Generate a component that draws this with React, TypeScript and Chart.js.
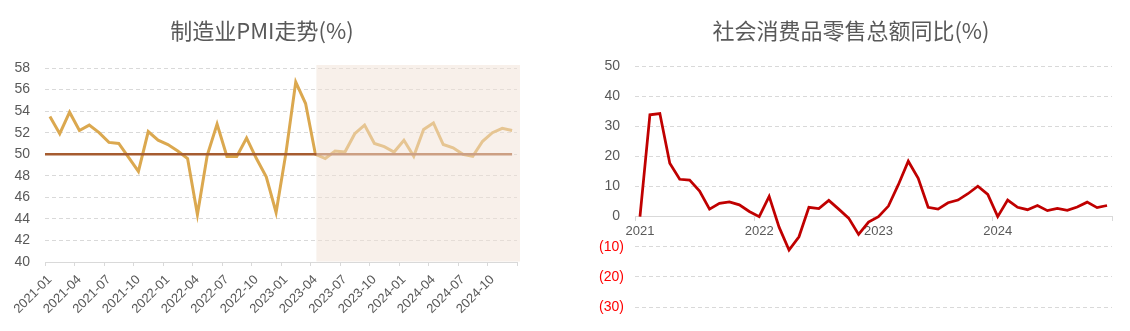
import React, { useEffect, useRef } from 'react';
import { Chart, registerables } from 'chart.js';

Chart.register(...registerables);

const months: string[] = [
  '2021-01', '2021-02', '2021-03', '2021-04', '2021-05', '2021-06', '2021-07', '2021-08', '2021-09', '2021-10', '2021-11', '2021-12',
  '2022-01', '2022-02', '2022-03', '2022-04', '2022-05', '2022-06', '2022-07', '2022-08', '2022-09', '2022-10', '2022-11', '2022-12',
  '2023-01', '2023-02', '2023-03', '2023-04', '2023-05', '2023-06', '2023-07', '2023-08', '2023-09', '2023-10', '2023-11', '2023-12',
  '2024-01', '2024-02', '2024-03', '2024-04', '2024-05', '2024-06', '2024-07', '2024-08', '2024-09', '2024-10', '2024-11', '2024-12',
];

const pmiValues: number[] = [
  53.5, 51.9, 53.9, 52.2, 52.7, 52.0, 51.1, 51.0, 49.7, 48.4, 52.1, 51.3,
  50.9, 50.3, 49.6, 44.4, 49.9, 52.8, 49.8, 49.8, 51.5, 49.6, 47.9, 44.6,
  50.1, 56.7, 54.7, 50.0, 49.6, 50.3, 50.2, 51.9, 52.7, 51.0, 50.7, 50.2,
  51.3, 49.8, 52.3, 52.9, 50.9, 50.6, 50.0, 49.8, 51.2, 52.0, 52.4, 52.2,
];

const retailValues: number[] = [
  0, 33.8, 34.2, 17.7, 12.4, 12.1, 8.5, 2.5, 4.4, 4.9, 3.9, 1.7,
  0, 6.7, -3.5, -11.1, -6.7, 3.1, 2.7, 5.4, 2.5, -0.5, -5.9, -1.8,
  0, 3.5, 10.6, 18.4, 12.7, 3.1, 2.5, 4.6, 5.5, 7.6, 10.1, 7.4,
  0, 5.5, 3.1, 2.3, 3.7, 2.0, 2.7, 2.1, 3.2, 4.8, 3.0, 3.7,
];

const yearLabels: string[] = ['2021', '2022', '2023', '2024'];

const PMI_TITLE = '制造业PMI走势(%)';
const RETAIL_TITLE = '社会消费品零售总额同比(%)';
const PMI_THRESHOLD = 50;
const SHADE_FROM = '2023-04';

const FONT = 'Liberation Sans, Arial, sans-serif';
const TEXT = '#595959';
const GRID = '#d9d9d9';

const pmiOverlay = {
  id: 'pmiOverlay',
  afterDatasetsDraw(chart: any) {
    const { ctx, chartArea, scales } = chart;
    const x = scales.x;
    const y = scales.y;
    const yPix = y.getPixelForValue(PMI_THRESHOLD);
    const xEnd = x.getPixelForValue(months.length - 1);
    ctx.save();
    ctx.strokeStyle = '#A65C30';
    ctx.lineWidth = 2.5;
    ctx.beginPath();
    ctx.moveTo(chartArea.left, yPix);
    ctx.lineTo(xEnd, yPix);
    ctx.stroke();
    const xs = x.getPixelForValue(months.indexOf(SHADE_FROM)) + 1;
    ctx.fillStyle = 'rgba(241,225,213,0.5)';
    ctx.fillRect(xs, chartArea.top - 3, chartArea.right + 3 - xs, chartArea.bottom - 0.5 - (chartArea.top - 3));
    ctx.restore();
  },
};

function PmiChart() {
  const ref = useRef<HTMLCanvasElement>(null);
  useEffect(() => {
    if (!ref.current) return;
    const chart = new Chart(ref.current, {
      type: 'line',
      data: {
        labels: months,
        datasets: [
          {
            data: pmiValues,
            borderColor: '#DBA84F',
            borderWidth: 3,
            pointRadius: 0,
            tension: 0,
            fill: false,
          },
        ],
      },
      options: {
        animation: false,
        responsive: false,
        maintainAspectRatio: false,
        layout: { padding: { left: 0, right: 43, top: 68, bottom: 0 } },
        plugins: { legend: { display: false }, tooltip: { enabled: false } },
        scales: {
          x: {
            type: 'category',
            offset: true,
            grid: {
              offset: true,
              drawOnChartArea: false,
              tickLength: 4,
              color: (c: any) => (c.index === undefined || c.index % 3 === 0 ? GRID : 'rgba(0,0,0,0)'),
            },
            border: { color: GRID },
            ticks: {
              autoSkip: false,
              maxRotation: 45,
              minRotation: 45,
              color: TEXT,
              padding: 6,
              font: { size: 13, family: FONT },
              callback: (_v: any, i: number) => (i % 3 === 0 ? months[i] : ''),
            },
            afterFit: (s: any) => {
              s.height = 69;
            },
          },
          y: {
            min: 40,
            max: 58,
            ticks: { stepSize: 2, color: TEXT, padding: 15, font: { size: 14, family: FONT } },
            grid: {
              drawTicks: false,
              color: (c: any) => (c.tick && c.tick.value === 40 ? 'rgba(0,0,0,0)' : GRID),
            },
            border: { display: false, dash: [4, 3] },
            afterFit: (s: any) => {
              s.width = 45;
            },
          },
        },
      },
      plugins: [pmiOverlay],
    } as any);
    return () => chart.destroy();
  }, []);
  return <canvas ref={ref} width={560} height={331} style={{ width: 560, height: 331, display: 'block' }} />;
}

function RetailChart() {
  const ref = useRef<HTMLCanvasElement>(null);
  useEffect(() => {
    if (!ref.current) return;
    const chart = new Chart(ref.current, {
      type: 'line',
      data: {
        labels: months,
        datasets: [
          {
            data: retailValues,
            borderColor: '#C00000',
            borderWidth: 2.75,
            pointRadius: 0,
            tension: 0,
            fill: false,
          },
        ],
      },
      options: {
        animation: false,
        responsive: false,
        maintainAspectRatio: false,
        layout: { padding: { left: 0, right: 18, top: 66, bottom: 24 } },
        plugins: { legend: { display: false }, tooltip: { enabled: false } },
        scales: {
          x: {
            type: 'category',
            position: { y: 0 },
            offset: true,
            grid: {
              offset: true,
              drawOnChartArea: false,
              tickLength: 4,
              color: (c: any) => (c.index === undefined || c.index % 12 === 0 ? GRID : 'rgba(0,0,0,0)'),
            },
            border: { color: GRID },
            ticks: {
              autoSkip: false,
              maxRotation: 0,
              minRotation: 0,
              color: TEXT,
              padding: 3,
              font: { size: 13, family: FONT },
              callback: (_v: any, i: number) => (i % 12 === 0 ? yearLabels[i / 12] : ''),
            },
          },
          y: {
            min: -30,
            max: 50,
            ticks: {
              stepSize: 10,
              padding: 11,
              font: { size: 14, family: FONT },
              color: (c: any) => (c.tick && c.tick.value < 0 ? '#FF0000' : TEXT),
              callback: (v: any) => (Number(v) < 0 ? `(${Math.abs(Number(v))})` : `${v} `),
            },
            grid: {
              drawTicks: false,
              color: (c: any) => (c.tick && c.tick.value === 0 ? 'rgba(0,0,0,0)' : GRID),
            },
            border: { display: false, dash: [4, 3] },
            afterFit: (s: any) => {
              s.width = 65;
            },
          },
        },
      },
    } as any);
    return () => chart.destroy();
  }, []);
  return <canvas ref={ref} width={560} height={331} style={{ width: 560, height: 331, display: 'block' }} />;
}

const titleStyle: React.CSSProperties = {
  position: 'absolute',
  top: 16,
  width: 400,
  textAlign: 'center',
  fontFamily: '"Noto Sans CJK SC", sans-serif',
  fontSize: 22,
  lineHeight: '26px',
  color: TEXT,
  whiteSpace: 'nowrap',
};

export default function App() {
  return (
    <div style={{ position: 'absolute', left: 0, top: 0, width: 1130, height: 331, background: '#fff', overflow: 'hidden' }}>
      <div style={{ position: 'absolute', left: 0, top: 0 }}>
        <PmiChart />
      </div>
      <div style={{ position: 'absolute', left: 570, top: 0 }}>
        <RetailChart />
      </div>
      <div style={{ ...titleStyle, left: 262 - 200 }}>{PMI_TITLE}</div>
      <div style={{ ...titleStyle, left: 851 - 200 }}>{RETAIL_TITLE}</div>
    </div>
  );
}
